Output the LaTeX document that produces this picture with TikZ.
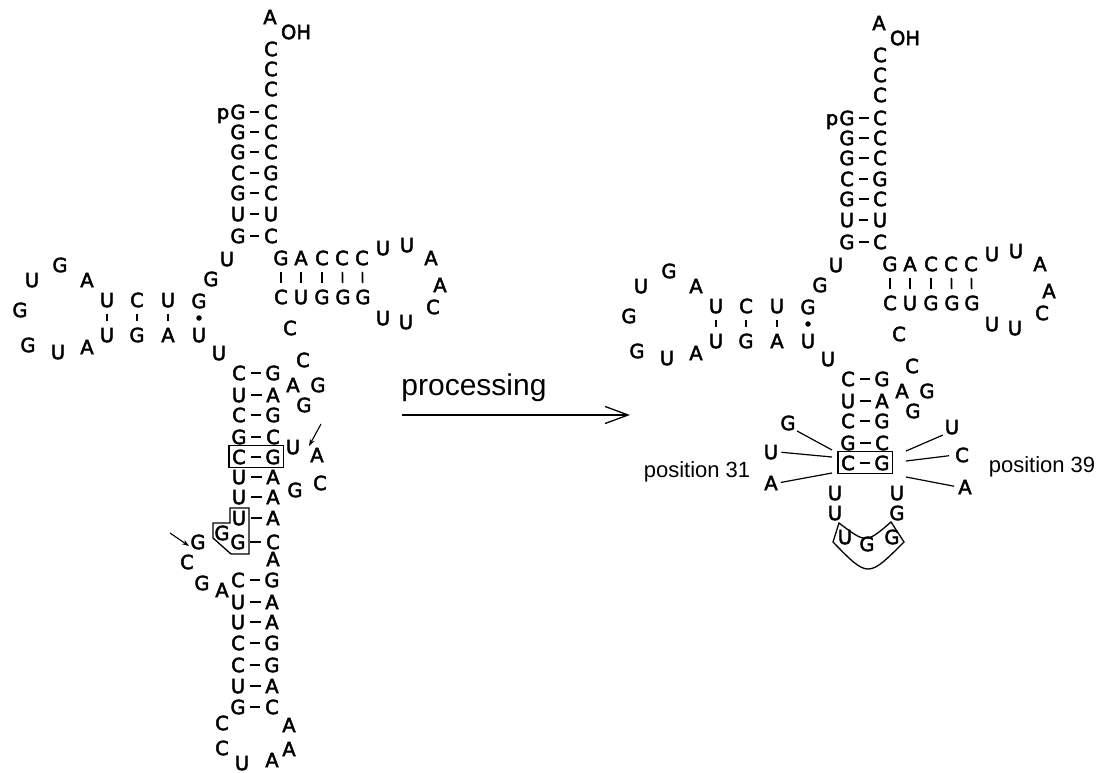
\documentclass[tikz,border=0pt]{standalone}
\usepackage{fontspec}
\setmainfont{Liberation Sans}
\newfontfamily\ntfont{DejaVu Sans}[FakeBold=2.5]
\usetikzlibrary{arrows.meta}
\tikzset{
  nt/.style={font=\ntfont\fontsize{19.5}{19.5}\selectfont, inner sep=0pt, text height=14.2pt, text depth=0pt},
  pairline/.style={line width=1.9pt, shorten <=4.5pt, shorten >=4.5pt},
  barline/.style={line width=1.7pt, shorten <=6.5pt, shorten >=6.5pt},
  thinline/.style={line width=1.2pt},
  boxline/.style={line width=1.3pt},
  poslabel/.style={font=\fontsize{22}{22}\selectfont, inner sep=0pt},
  smallarrow/.style={line width=1.1pt, -{Stealth[length=7pt,width=5pt]}},
}
\newcommand\nt[4]{\node[nt] (#1) at (#2,#3) {#4};}
\newcommand\bp[6]{\node[nt] (#1l) at (#3,#2) {#4};\node[nt] (#1r) at (#5,#2) {#6};\draw[pairline] (#1l) -- (#1r);}
\newcommand\upperpart{%
  % acceptor stem
  \nt{a76}{270}{17}{A}
  \node[nt] (oh) at (296,32) {OH};
  \nt{a75}{271}{49}{C}
  \nt{a74}{271}{69}{C}
  \nt{a73}{271}{89}{C}
  \node[nt, anchor=base] (p5) at (223,119) {p};
  \bp{s1}{112}{238}{G}{271}{C}
  \bp{s2}{132}{238}{G}{271}{C}
  \bp{s3}{152}{238}{G}{271}{C}
  \bp{s4}{173}{238}{C}{271}{G}
  \bp{s5}{193}{238}{G}{271}{C}
  \bp{s6}{214}{238}{U}{271}{U}
  \bp{s7}{236}{238}{G}{271}{C}
  \nt{u8}{227}{259}{U}
  \nt{g9}{211}{279}{G}
  % D arm
  \nt{d10}{199}{301}{G}
  \nt{d11}{168}{300}{U}
  \nt{d12}{137}{300}{C}
  \nt{d13}{107}{300}{U}
  \nt{d14}{87}{280}{A}
  \nt{d15}{60}{265}{G}
  \nt{d16}{32}{280}{U}
  \nt{d17}{20}{310}{G}
  \nt{d18}{28}{345}{G}
  \nt{d19}{58}{352}{U}
  \nt{d20}{87}{347}{A}
  \nt{d22}{107}{335}{U}
  \nt{d23}{137}{335}{G}
  \nt{d24}{168}{335}{A}
  \nt{d25}{199}{335}{U}
  \draw[barline] (d13) -- (d22);
  \draw[barline] (d12) -- (d23);
  \draw[barline] (d11) -- (d24);
  \node[circle, fill, inner sep=0pt, minimum size=5.5pt] (wob) at (199,318) {};
  \nt{u26}{219}{353}{U}
  % anticodon stem (upper part)
  \bp{c1}{373}{239}{C}{273}{G}
  \bp{c2}{395}{239}{U}{273}{A}
  \bp{c3}{415}{239}{C}{273}{G}
  \bp{c4}{437}{239}{G}{273}{C}
  \bp{c5}{457}{239}{C}{273}{G}
  \draw[boxline] ([shift={(-3,-4)}]c5l.north west) rectangle ([shift={(3,3)}]c5r.south east);
  % variable loop
  \nt{v1}{303}{360}{C}
  \nt{v2}{293}{385}{A}
  \nt{v3}{318}{385}{G}
  \nt{v4}{304}{405}{G}
  \nt{v5}{290}{328}{C}
  % T arm
  \nt{t1}{281}{258}{G}
  \nt{t2}{301}{258}{A}
  \nt{t3}{322}{258}{C}
  \nt{t4}{342}{258}{C}
  \nt{t5}{362}{258}{C}
  \nt{b1}{281}{297}{C}
  \nt{b2}{301}{297}{U}
  \nt{b3}{322}{297}{G}
  \nt{b4}{343}{297}{G}
  \nt{b5}{363}{297}{G}
  \draw[barline] (t1) -- (b1);
  \draw[barline] (t2) -- (b2);
  \draw[barline] (t3) -- (b3);
  \draw[barline] (t4) -- (b4);
  \draw[barline] (t5) -- (b5);
  \nt{l1}{383}{248}{U}
  \nt{l2}{407}{245}{U}
  \nt{l3}{431}{258}{A}
  \nt{l4}{440}{285}{A}
  \nt{l5}{433}{307}{C}
  \nt{l6}{406}{322}{U}
  \nt{l7}{383}{318}{U}
}
\begin{document}
\begin{tikzpicture}[x=1pt,y=-1pt]
\useasboundingbox (0,0) rectangle (1101,773);
% ---------------- left (precursor) ----------------
\begin{scope}[name prefix=L-]
  \upperpart
  \nt{x1}{293}{447}{U}
  \nt{x2}{317}{455}{A}
  \nt{x3}{320}{483}{C}
  \nt{x4}{295}{490}{G}
  \coordinate (ar1s) at (321,424);
  \coordinate (ar1e) at (309,446);
  \draw[smallarrow] (ar1s) -- (ar1e);
  \bp{e1}{477}{239}{U}{273}{A}
  \bp{e2}{497}{239}{U}{273}{A}
  \bp{e3}{518}{239}{U}{273}{A}
  \bp{e4}{542}{238}{G}{273}{C}
  \nt{e5}{222}{533}{G}
  \nt{e6}{198}{542}{G}
  \nt{e7}{187}{562}{C}
  \nt{e8}{273}{559}{A}
  \coordinate (ar2s) at (170,533);
  \coordinate (ar2e) at (189,546);
  \draw[smallarrow] (ar2s) -- (ar2e);
  \draw[boxline] (230,508) -- (249,508) -- (249,554) -- (231,554) -- (213,538) -- (213,523) -- (230,523) -- cycle;
  \nt{e9}{202}{583}{G}
  \nt{e10}{222}{590}{A}
  \bp{f1}{580}{238}{C}{272}{G}
  \bp{f2}{602}{238}{U}{272}{A}
  \bp{f3}{622}{238}{U}{272}{A}
  \bp{f4}{643}{238}{C}{272}{G}
  \bp{f5}{665}{238}{C}{272}{G}
  \bp{f6}{686}{238}{U}{272}{A}
  \bp{f7}{707}{238}{G}{272}{C}
  \nt{k1}{222}{723}{C}
  \nt{k2}{222}{748}{C}
  \nt{k3}{242}{763}{U}
  \nt{k4}{272}{760}{A}
  \nt{k5}{289}{749}{A}
  \nt{k6}{289}{725}{A}
\end{scope}
% ---------------- processing arrow ----------------
\node[font=\fontsize{30}{30}\selectfont, inner sep=0pt, anchor=base] (proc) at (474,395) {processing};
\coordinate (pa) at (402,415);
\coordinate (pb) at (630,415);
\draw[line width=1.3pt, -{Straight Barb[length=23pt,width=17pt,line width=1.3pt]}] (pa) -- (pb);
% ---------------- right (processed) ----------------
\begin{scope}[name prefix=R-, shift={(609,6)}]
  \upperpart
\end{scope}
\nt{r-g31}{788}{423}{G}
\nt{r-u32}{771}{452}{U}
\nt{r-a33}{771}{483}{A}
\nt{r-u37}{952}{427}{U}
\nt{r-c38}{962}{455}{C}
\nt{r-a39}{965}{487}{A}
\coordinate (cl1) at (832,450);
\coordinate (cl2) at (832,457);
\coordinate (cl3) at (832,473);
\coordinate (cr1) at (906,451);
\coordinate (cr2) at (906,461);
\coordinate (cr3) at (906,477);
\draw[thinline, shorten <=1.5pt] (r-g31.south east) -- (cl1);
\draw[thinline, shorten <=3pt] (r-u32.east) -- (cl2);
\draw[thinline, shorten <=3pt] (r-a33.east) -- (cl3);
\draw[thinline, shorten <=2pt] (r-u37.south west) -- (cr1);
\draw[thinline, shorten <=6pt] (r-c38.west) -- (cr2);
\draw[thinline, shorten <=4pt] (r-a39.west) -- (cr3);
\node[poslabel] (pos31) at (697,472) {position 31};
\node[poslabel] (pos39) at (1042,467) {position 39};
\nt{r-u1}{835}{493}{U}
\nt{r-u2}{835}{513}{U}
\nt{r-u3}{897}{493}{U}
\nt{r-g4}{897}{513}{G}
\nt{r-i1}{845}{537}{U}
\nt{r-i2}{867}{544}{G}
\nt{r-i3}{892}{537}{G}
\draw[boxline] (839,523) .. controls (866,543.5) .. (891,522) -- (904,542) .. controls (868,578) .. (833,542) -- cycle;
\end{tikzpicture}
\end{document}
